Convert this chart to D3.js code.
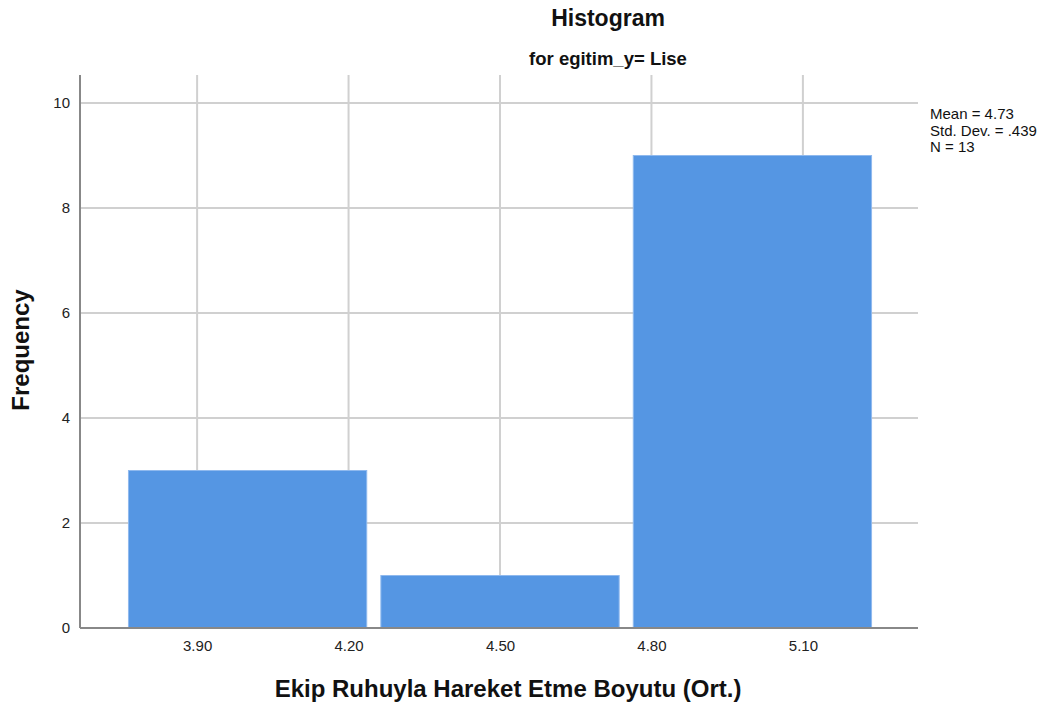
<!DOCTYPE html>
<html><head><meta charset="utf-8">
<script src="https://cdn.jsdelivr.net/npm/d3@7"></script>
<style>body{margin:0;background:#fff}svg{display:block}</style>
</head><body>
<script>
const binStarts = [3.75, 4.25, 4.75];
const binWidth = 0.5;
const frequencies = [3, 1, 9];
const xTicks = [3.90, 4.20, 4.50, 4.80, 5.10];
const yTicks = [0, 2, 4, 6, 8, 10];
const statsLines = ["Mean = 4.73", "Std. Dev. = .439", "N = 13"];
const title = "Histogram";
const subtitle = "for egitim_y= Lise";
const xLabel = "Ekip Ruhuyla Hareket Etme Boyutu (Ort.)";
const yLabel = "Frequency";

const W = 1054, H = 703;
const svg = d3.select("body").append("svg").attr("width", W).attr("height", H);
const pLeft = 80, pRight = 918, pTop = 75, pBottom = 628;
const x = d3.scaleLinear().domain([3.668, 5.328]).range([pLeft, pRight]);
const y = d3.scaleLinear().domain([0, 10]).range([pBottom, 103]);
const font = "Arial, 'Liberation Sans', sans-serif";

// grid
svg.append("g").selectAll("line").data(yTicks.filter(d => d > 0)).join("line")
  .attr("x1", pLeft).attr("x2", pRight).attr("y1", d => y(d)).attr("y2", d => y(d))
  .attr("stroke", "#d0d0d0").attr("stroke-width", 2);
svg.append("g").selectAll("line").data(xTicks).join("line")
  .attr("x1", d => x(d)).attr("x2", d => x(d)).attr("y1", pTop).attr("y2", pBottom)
  .attr("stroke", "#d0d0d0").attr("stroke-width", 2);

// bars
const inset = 0.014;
svg.append("g").selectAll("rect").data(frequencies).join("rect")
  .attr("x", (d, i) => x(binStarts[i] + inset))
  .attr("width", (d, i) => x(binStarts[i] + binWidth - inset) - x(binStarts[i] + inset))
  .attr("y", d => y(d)).attr("height", d => y(0) - y(d))
  .attr("fill", "#5596e3").attr("stroke", "#8fb9ee").attr("stroke-width", 1);

// axes
const xAxis = svg.append("g").attr("transform", `translate(0,${pBottom})`)
  .call(d3.axisBottom(x).tickValues(xTicks).tickFormat(d3.format(".2f")).tickSize(0).tickPadding(12));
xAxis.select(".domain").attr("stroke", "#888").attr("stroke-width", 2).attr("d", `M${pLeft},0H${pRight}`);
xAxis.selectAll("text").attr("font-family", font).attr("font-size", 15).attr("fill", "#222");

const yAxis = svg.append("g").attr("transform", `translate(${pLeft},0)`)
  .call(d3.axisLeft(y).tickValues(yTicks).tickFormat(d3.format("d")).tickSize(0).tickPadding(10));
yAxis.select(".domain").attr("stroke", "#888").attr("stroke-width", 2).attr("d", `M0,${pTop}V${pBottom}`);
yAxis.selectAll("text").attr("font-family", font).attr("font-size", 15).attr("fill", "#222");

// titles
svg.append("text").attr("x", 608).attr("y", 26).attr("text-anchor", "middle")
  .attr("font-family", font).attr("font-size", 23).attr("font-weight", "bold").attr("fill", "#111").text(title);
svg.append("text").attr("x", 608).attr("y", 65).attr("text-anchor", "middle")
  .attr("font-family", font).attr("font-size", 18.5).attr("font-weight", "bold").attr("fill", "#111").text(subtitle);
svg.append("text").attr("x", 508).attr("y", 697).attr("text-anchor", "middle")
  .attr("font-family", font).attr("font-size", 24).attr("font-weight", "bold").attr("fill", "#111").text(xLabel);
svg.append("text").attr("transform", "translate(29,350) rotate(-90)").attr("text-anchor", "middle")
  .attr("font-family", font).attr("font-size", 24).attr("font-weight", "bold").attr("fill", "#111").text(yLabel);

// stats
svg.append("g").selectAll("text").data(statsLines).join("text")
  .attr("x", 930).attr("y", (d, i) => 119 + i * 16.5)
  .attr("font-family", font).attr("font-size", 15).attr("fill", "#111").text(d => d);
</script>
</body></html>
